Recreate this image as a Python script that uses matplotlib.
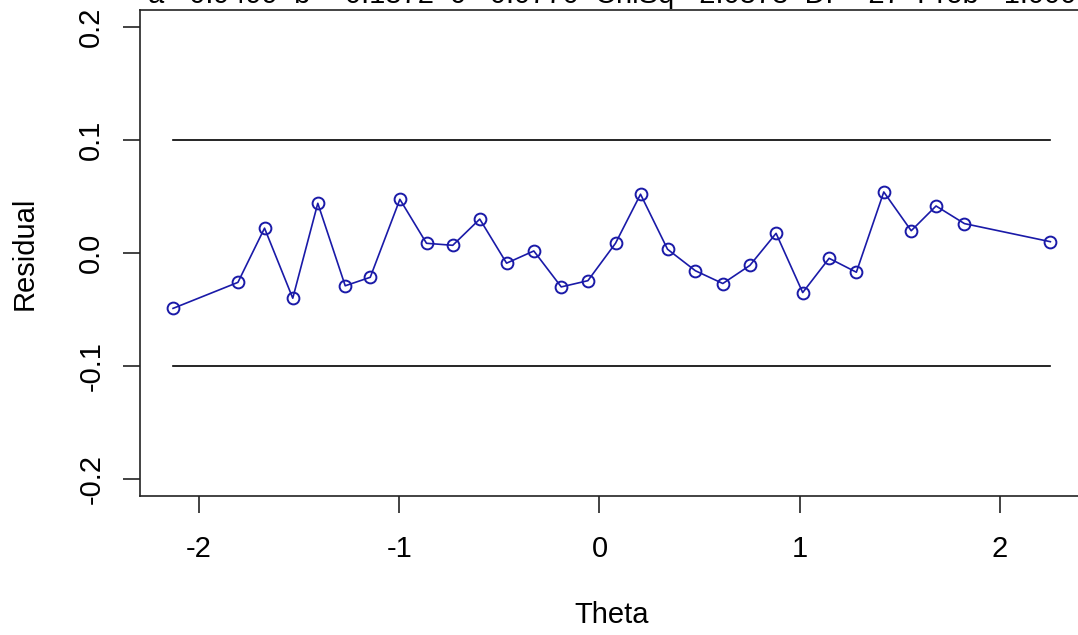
import numpy as np
import matplotlib
matplotlib.use("Agg")
import matplotlib.pyplot as plt

# residuals by theta
theta = [-2.13, -1.806, -1.673, -1.532, -1.407, -1.270, -1.145, -0.997, -0.864, -0.733,
         -0.598, -0.464, -0.328, -0.191, -0.058, 0.080, 0.205, 0.340, 0.479, 0.616,
         0.751, 0.882, 1.015, 1.147, 1.283, 1.420, 1.557, 1.681, 1.823, 2.252]
residual = [-0.049, -0.026, 0.022, -0.040, 0.044, -0.029, -0.0215, 0.0475, 0.0086, 0.0068,
            0.030, -0.009, 0.0018, -0.030, -0.0245, 0.0086, 0.052, 0.0033, -0.0157, -0.027,
            -0.011, 0.0174, -0.035, -0.0047, -0.017, 0.054, 0.0197, 0.0416, 0.026, 0.010]
bounds = [0.1, -0.1]
xticks = [-2, -1, 0, 1, 2]
yticks = [-0.2, -0.1, 0.0, 0.1, 0.2]
title = "a= 0.9499  b= -0.1872  c= 0.0770  ChiSq= 2.0878  DF= 27  Prob= 1.000"

plt.rcParams['font.family'] = ['Liberation Sans', 'DejaVu Sans']

fig = plt.figure(figsize=(10.78, 6.35), dpi=100)
ax = fig.add_axes([140/1078, 139/635, 945/1078, 486/635])

line_col = '#1a1aa8'
for b in bounds:
    ax.plot([theta[0], theta[-1]], [b, b], color='black', lw=1.2)
ax.plot(theta, residual, color=line_col, lw=1.2, marker='o', markersize=8.5,
        fillstyle='none', markeredgewidth=1.4)

ax.set_xlim(-2.295, 2.425)
ax.set_ylim(-0.215, 0.215)
ax.set_xticks(xticks)
ax.set_xticklabels([str(t) for t in xticks])
ax.set_yticks(yticks)
ax.set_yticklabels(['-0.2', '-0.1', '0.0', '0.1', '0.2'], rotation=90, va='center')
ax.tick_params(axis='both', length=12, width=1.2, labelsize=21, color='#222222')
ax.tick_params(axis='x', pad=16)
ax.tick_params(axis='y', pad=13)
for s in ax.spines.values():
    s.set_linewidth(1.2)
    s.set_color('#222222')

fig.text(25/1078, 1 - 253/635, 'Residual', rotation=90, ha='center', va='center', fontsize=21)
fig.text(612/1078, 1 - 615/635, 'Theta', ha='center', va='center', fontsize=21)
# title sits mostly above the figure edge, as in the source image
fig.text(612/1078, 1 - 3/635, title, ha='center', va='baseline', fontsize=21)

fig.savefig('out.png', dpi=100)
